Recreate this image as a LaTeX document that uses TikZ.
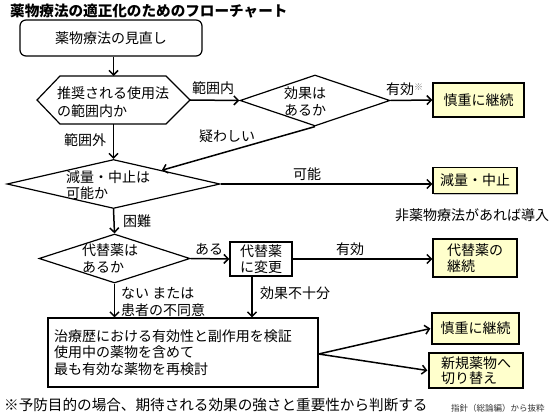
\documentclass[tikz,border=0pt]{standalone}
\usepackage{fontspec}
\setmainfont{Noto Sans CJK JP}
\usetikzlibrary{arrows.meta,shapes.geometric,shadows}
\definecolor{boxyellow}{RGB}{255,255,204}
\begin{document}
\begin{tikzpicture}[x=1pt,y=-1pt,
  font=\fontsize{14pt}{17pt}\selectfont,
  arr/.style={-{Straight Barb[length=4.5pt,width=9pt]}, line width=1.5pt},
  conn/.style={line width=1.5pt},
  shape line/.style={line width=1.2pt},
  dec/.style={draw, diamond, line width=1.2pt, inner sep=0pt},
  result/.style={draw, line width=1.2pt, fill=boxyellow, inner sep=0pt, align=left,
    drop shadow={shadow xshift=1.2pt, shadow yshift=-1.2pt, fill=black!45}},
  plain box/.style={draw, line width=1.2pt, fill=white, inner sep=0pt, align=left},
  lbl/.style={inner sep=0pt},
]
\useasboundingbox (0,0) rectangle (560,420);

% title
\node[lbl, anchor=west, font=\fontsize{14.6pt}{17pt}\selectfont\bfseries] (title) at (10,11) {薬物療法の適正化のためのフローチャート};

% start box
\node[draw, rounded corners=6pt, line width=1.2pt, minimum width=182pt, minimum height=36pt, inner sep=0pt] (start) at (111,38) {薬物療法の見直し};

% hexagon
\coordinate (hexW) at (37,100);
\coordinate (hexE) at (190,100);
\coordinate (hexN) at (113.5,76);
\coordinate (hexS) at (113.5,124);
\draw[shape line, fill=white] (hexW) -- (60,76) -- (166,76) -- (hexE) -- (166,124) -- (60,124) -- cycle;
\node[lbl, anchor=west, align=left, font=\fontsize{14pt}{18pt}\selectfont] (hextext) at (57,102) {推奨される使用法\\の範囲内か};

% diamonds
\node[dec, minimum width=150pt, minimum height=51pt] (d1) at (315,100.5) {};
\node[lbl, anchor=west, align=left] (d1text) at (284,101) {効果は\\あるか};

\node[dec, minimum width=213pt, minimum height=49pt] (d2) at (113.5,184) {};
\node[lbl, anchor=west, align=left, font=\fontsize{14pt}{16pt}\selectfont] (d2text) at (66,185.5) {減量・中止は\\可能か};

\node[dec, minimum width=151pt, minimum height=49pt] (d3) at (114.5,258.5) {};
\node[lbl, anchor=west, align=left] (d3text) at (82,258.5) {代替薬は\\あるか};

% boxes
\node[result, minimum width=91pt, minimum height=34pt] (b1) at (478.5,100) {慎重に継続};
\node[result, minimum width=84pt, minimum height=26pt] (b2) at (475,180.5) {減量・中止};
\node[result, minimum width=84pt, minimum height=38pt, font=\fontsize{14pt}{16pt}\selectfont] (b3) at (475,258) {代替薬の\\継続};
\node[result, minimum width=87pt, minimum height=31pt] (b4) at (475.5,328.5) {慎重に継続};
\node[result, minimum width=94pt, minimum height=35pt, font=\fontsize{14pt}{15pt}\selectfont] (b5) at (476,370.5) {新規薬物へ\\切り替え};
\node[plain box, minimum width=62pt, minimum height=34pt, font=\fontsize{14pt}{15.5pt}\selectfont] (bc) at (261,259) {代替薬\\に変更};
\node[plain box, minimum width=270pt, minimum height=69pt, text width=258pt, inner xsep=6pt, font=\fontsize{14pt}{16.5pt}\selectfont] (bt) at (183,352.5) {治療歴における有効性と副作用を検証\\使用中の薬物を含めて\\最も有効な薬物を再検討};

% connectors
\draw[arr] (start.south -| hexN) -- (hexN);
\draw[arr] (hexE) -- (d1.west);
\draw[arr] (d1.east) -- (b1.west);
\draw[arr] (hexS) -- (d2.north);
\draw[arr] (d1.south) -- (d2);
\draw[arr] (d2.east) -- (d2.east -| b2.west);
\draw[arr] (d2.south) -- (d3.north);
\draw[arr] (d3.east) -- (bc.west);
\draw[arr] (bc.east) -- (bc.east -| b3.west);
\draw[arr] (d3.south) -- (d3.south |- bt.north);
\draw[arr] ([xshift=-9pt]bc.south) -- ([xshift=-9pt]bc.south |- bt.north);
\coordinate (split) at ([yshift=-1.5pt]bt.east);
\draw[arr] (split) -- ([xshift=-1pt]b4.west);
\draw[arr] (split) -- ([xshift=-1pt]b5.west);

% labels
\node[lbl] (l1) at (213,88) {範囲内};
\node[lbl, anchor=west] (l2) at (386,89) {有効\raisebox{4pt}{\textcolor{gray}{\fontsize{9pt}{9pt}\selectfont ※}}};
\node[lbl] (l3) at (85,140) {範囲外};
\node[lbl] (l4) at (227,136) {疑わしい};
\node[lbl] (l5) at (137,221) {困難};
\node[lbl] (l6) at (307,174) {可能};
\node[lbl] (l7) at (472,215) {非薬物療法があれば導入};
\node[lbl] (l8) at (209,249) {ある};
\node[lbl] (l9) at (350,249) {有効};
\node[lbl, anchor=west, align=left] (l10) at (121,301.5) {ない または\\患者の不同意};
\node[lbl, anchor=west] (l11) at (260,293) {効果不十分};

% footnotes
\node[lbl, anchor=west, font=\fontsize{14.6pt}{17pt}\selectfont] (fn) at (4,405) {※予防目的の場合、期待される効果の強さと重要性から判断する};
\node[lbl, anchor=west, font=\fontsize{8.5pt}{10pt}\selectfont, text=black!80] (src) at (451,408) {指針（総論編）から抜粋};
\end{tikzpicture}
\end{document}
